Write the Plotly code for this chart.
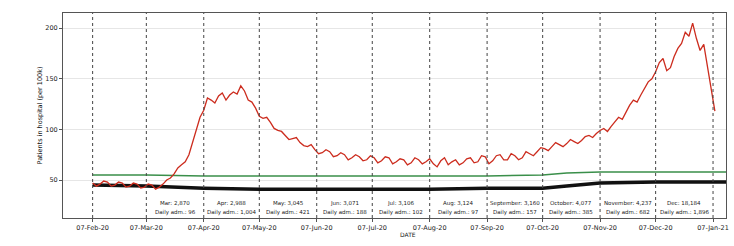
import pandas as pd
import plotly.graph_objects as go

# ---- data ----
red_start = "2020-02-07"
red_values = [47, 44, 46, 49, 48, 44, 45, 48, 47, 43, 44, 47, 46, 42, 43, 46, 45, 41, 43, 46,
              50, 52, 56, 62, 65, 68, 75, 88, 99, 112, 119, 131, 129, 126, 133, 136, 129, 134, 137, 135,
              143, 138, 129, 127, 121, 113, 111, 112, 107, 101, 99, 98, 94, 90, 91, 92, 87, 84, 83, 85,
              80, 76, 77, 80, 78, 73, 74, 77, 75, 70, 72, 75, 73, 69, 70, 74, 72, 67, 69, 73,
              72, 66, 68, 71, 70, 65, 67, 72, 70, 66, 68, 71, 66, 63, 69, 72, 65, 68, 70, 65,
              67, 71, 72, 67, 68, 74, 73, 66, 69, 74, 75, 70, 70, 76, 74, 70, 72, 78, 76, 74,
              78, 82, 81, 79, 83, 87, 85, 83, 86, 90, 88, 86, 89, 93, 94, 92, 96, 99, 101, 98,
              103, 108, 112, 110, 117, 124, 129, 127, 134, 141, 147, 150, 157, 166, 170, 158, 161, 172, 180, 185,
              196, 192, 205, 190, 178, 184, 160, 140, 118]
red_dates = pd.date_range(red_start, periods=len(red_values), freq="2D")

base_dates = ["2020-02-07", "2020-03-07", "2020-04-07", "2020-05-07", "2020-06-07",
              "2020-07-07", "2020-08-07", "2020-09-07", "2020-10-07", "2020-10-20",
              "2020-11-07", "2020-12-07", "2021-01-07", "2021-01-14"]
black_values = [45, 44, 42, 41, 41, 41, 41, 42, 42, 44, 47, 48, 48, 48]
green_values = [55, 55, 54, 54, 54, 54, 54, 54, 55, 57, 58, 58, 58, 58]

tick_dates = ["2020-02-07", "2020-03-07", "2020-04-07", "2020-05-07", "2020-06-07",
              "2020-07-07", "2020-08-07", "2020-09-07", "2020-10-07", "2020-11-07",
              "2020-12-07", "2021-01-07"]
tick_labels = ["07-Feb-20", "07-Mar-20", "07-Apr-20", "07-May-20", "07-Jun-20",
               "07-Jul-20", "07-Aug-20", "07-Sep-20", "07-Oct-20", "07-Nov-20",
               "07-Dec-20", "07-Jan-21"]

month_labels = ["Mar: 2,870", "Apr: 2,988", "May: 3,045", "Jun: 3,071", "Jul: 3,106",
                "Aug: 3,124", "September: 3,160", "October: 4,077", "November: 4,237", "Dec: 18,184"]
month_notes = ["Daily adm.: 96", "Daily adm.: 1,004", "Daily adm.: 421", "Daily adm.: 188",
               "Daily adm.: 102", "Daily adm.: 97", "Daily adm.: 157", "Daily adm.: 385",
               "Daily adm.: 682", "Daily adm.: 1,896"]
y_ticks = [50, 100, 150, 200]

fig = go.Figure()
fig.add_trace(go.Scatter(x=pd.to_datetime(base_dates), y=green_values, mode="lines",
                         line=dict(color="#3a8f4a", width=1.5), showlegend=False))
fig.add_trace(go.Scatter(x=pd.to_datetime(base_dates), y=black_values, mode="lines",
                         line=dict(color="#111111", width=3.5), showlegend=False))
fig.add_trace(go.Scatter(x=red_dates, y=red_values, mode="lines",
                         line=dict(color="#cc2c1e", width=1.3), showlegend=False))

# vertical dotted lines at ticks
for d in tick_dates:
    fig.add_shape(type="line", xref="x", yref="paper", x0=d, x1=d, y0=0, y1=1,
                  line=dict(color="#444444", width=1, dash="dot"), layer="above")

# annotations in segments
td = pd.to_datetime(tick_dates)
for i in range(len(month_labels)):
    a, b = td[i + 1], td[i + 2]
    mid = a + (b - a) / 2
    fig.add_annotation(x=mid, y=27, xref="x", yref="y", text=month_labels[i], showarrow=False,
                       font=dict(size=5.5, color="#222222", family="DejaVu Sans"))
    fig.add_annotation(x=mid, y=17.5, xref="x", yref="y", text=month_notes[i], showarrow=False,
                       font=dict(size=5.5, color="#222222", family="DejaVu Sans"))

# axis titles
fig.add_annotation(x=0, y=0.5, xref="paper", yref="paper", xshift=-30, text="Patients in hospital (per 100k)",
                   textangle=-90, showarrow=False, font=dict(size=6.5, color="#111111"))
fig.add_annotation(x=0.52, y=0, xref="paper", yref="paper", yshift=-22, text="DATE",
                   showarrow=False, font=dict(size=6, color="#222222"))

fig.update_layout(
    width=734, height=246,
    margin=dict(l=63, r=8, t=13, b=28, autoexpand=False),
    paper_bgcolor="white", plot_bgcolor="white",
    font=dict(family="DejaVu Sans", size=6.5, color="#222222"),
    xaxis=dict(range=["2020-01-22", "2021-01-14"], tickvals=td, ticktext=tick_labels,
               showgrid=False, showline=True, linecolor="#555555", mirror=True,
               ticks="outside", ticklen=3, tickcolor="#555555", automargin=False),
    yaxis=dict(range=[12.5, 215], tickvals=y_ticks, showgrid=True, gridcolor="#e6e6e6",
               zeroline=False, showline=True, linecolor="#555555", mirror=True,
               ticks="outside", ticklen=3, tickcolor="#555555", automargin=False),
)

fig.write_html("out.html", config={"displayModeBar": False},
               post_script="document.body.style.margin='0';document.body.style.overflow='hidden';")
